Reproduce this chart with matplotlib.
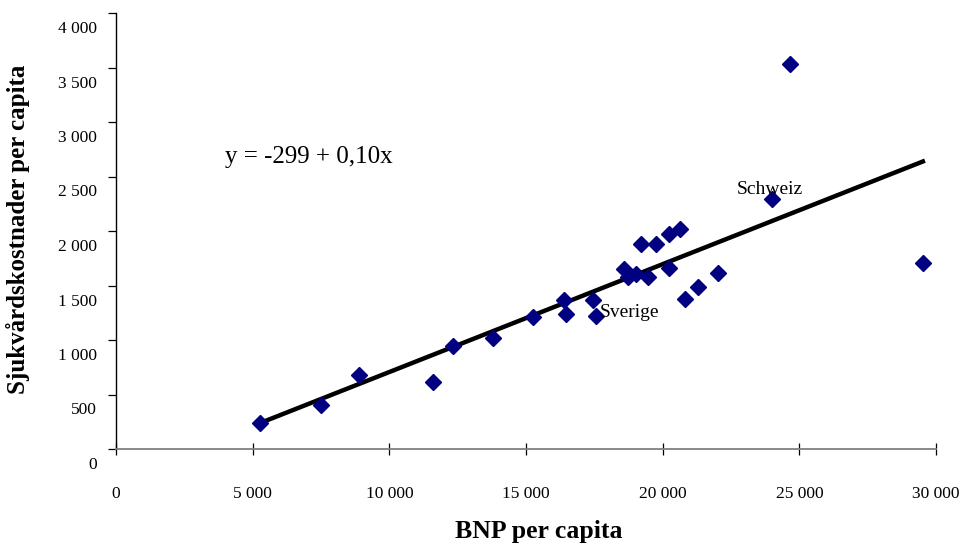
import numpy as np
import matplotlib
matplotlib.use("Agg")
import matplotlib.pyplot as plt
from matplotlib.transforms import ScaledTranslation

# BNP per capita och sjukvårdskostnader per capita
bnp = [5250, 7490, 8880, 11590, 12320, 13780, 15240, 16380, 16450, 17440,
       17550, 18580, 18720, 19020, 19200, 19460, 19750, 20220, 20220, 20630,
       20810, 21290, 22020, 23990, 24650, 29520]
kostnad = [239, 404, 680, 616, 947, 1020, 1213, 1369, 1241, 1369,
           1222, 1654, 1581, 1608, 1884, 1581, 1884, 1976, 1664, 2022,
           1379, 1489, 1618, 2298, 3529, 1710]

xticks = [0, 5000, 10000, 15000, 20000, 25000, 30000]
yticks = [0, 500, 1000, 1500, 2000, 2500, 3000, 3500, 4000]

def fmt(v):
    return "{:,}".format(v).replace(",", " ")

plt.rcParams['font.family'] = ['Liberation Serif', 'DejaVu Serif']

fig = plt.figure(figsize=(9.63, 5.47), dpi=100)
ax = fig.add_axes([116 / 963, 98 / 547, 820 / 963, 436 / 547])

coefs = np.polyfit(bnp, kostnad, 1)
xl = np.array([min(bnp), max(bnp)])
ax.plot(xl, np.polyval(coefs, xl), '-', color='black', lw=3.2, zorder=2)
ax.plot(bnp, kostnad, 'D', color='#000080', ms=8.5, zorder=3, clip_on=False)

ax.set_xlim(0, 30000)
ax.set_ylim(0, 4000)
ax.set_xticks(xticks)
ax.set_yticks(yticks)
ax.set_xticklabels([fmt(v) for v in xticks])
ax.set_yticklabels([fmt(v) for v in yticks])

for s in ['top', 'right']:
    ax.spines[s].set_visible(False)
ax.spines['bottom'].set_color('#808080')
ax.spines['bottom'].set_linewidth(1.3)
ax.spines['left'].set_linewidth(1.0)

ax.tick_params(axis='x', direction='inout', length=9, width=0.9, labelsize=12.5, pad=22, colors='black')
ax.tick_params(axis='y', direction='out', length=6, width=0.9, labelsize=12.5, pad=8)

# y-etiketterna sitter lite under sina streck
off = ScaledTranslation(0, -14 / 100, fig.dpi_scale_trans)
for lab in ax.get_yticklabels():
    lab.set_transform(lab.get_transform() + off)

ax.set_xlabel("BNP per capita", fontsize=18.5, fontweight='bold')
ax.xaxis.set_label_coords(0.515, -0.163)
ax.set_ylabel("Sjukvårdskostnader per capita", fontsize=18, fontweight='bold')
ax.yaxis.set_label_coords(-0.105, 0.505)

ax.text(4000, 2680, "y = -299 + 0,10x", fontsize=18, va='center')
ax.text(22700, 2380, "Schweiz", fontsize=14, va='center')
ax.text(17700, 1250, "Sverige", fontsize=14, va='center')

fig.savefig("out.png", dpi=100)
